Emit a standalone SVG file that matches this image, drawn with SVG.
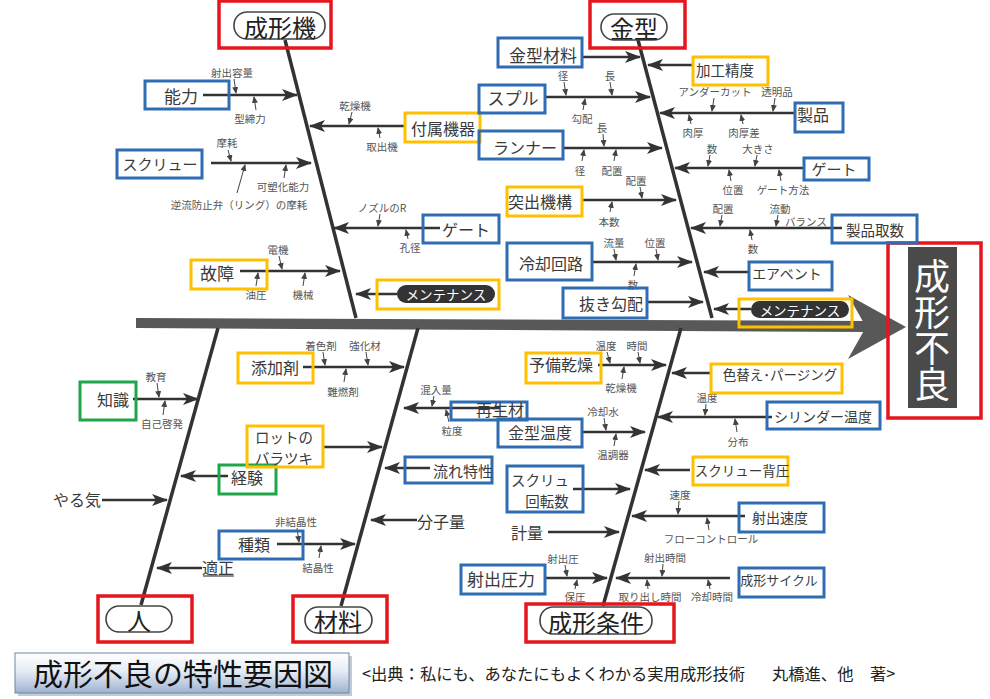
<svg xmlns="http://www.w3.org/2000/svg" width="990" height="699" viewBox="0 0 990 699">
<defs>
<marker id="ah" markerUnits="userSpaceOnUse" markerWidth="16" markerHeight="12" refX="15" refY="6" orient="auto"><path d="M0,0 L16,6 L0,12 L4,6 Z" fill="#333"/></marker>
<marker id="sa" markerUnits="userSpaceOnUse" markerWidth="7" markerHeight="6" refX="6" refY="3" orient="auto"><path d="M0,0 L7,3 L0,6 Z" fill="#444"/></marker>
<linearGradient id="tg" x1="0" y1="0" x2="0" y2="1"><stop offset="0" stop-color="#ffffff"/><stop offset="0.45" stop-color="#e6ecf5"/><stop offset="1" stop-color="#9fb3cf"/></linearGradient>
<style>
.t{font-family:"Noto Sans CJK JP","Noto Sans",sans-serif;fill:#3a3a3a;text-anchor:middle;dominant-baseline:central}
.m{font-size:16px}
.s{font-size:10.5px;fill:#555}
.k{font-size:24px;fill:#222}
.w{fill:#fff;font-size:13.5px}
.bx{fill:none;stroke-width:3}
.bb{stroke:#2E6DB4}
.by{stroke:#FFC000}
.bg{stroke:#1FA64A}
.br{fill:none;stroke:#E5161D;stroke-width:3.5}
.pl{fill:#fff;stroke:#444;stroke-width:1.6}
.dp{fill:#333}
.ln{stroke:#333;stroke-width:2.4;fill:none;marker-end:url(#ah)}
.bn{stroke:#333;stroke-width:3.5}
.sa{stroke:#444;stroke-width:1;marker-end:url(#sa)}
</style>
</defs>
<rect width="990" height="699" fill="#fff"/>

<g id="spine">
<polygon points="136,318 868,321 868,332 136,328" fill="#585858"/>
<path d="M848,295 L906,327 L848,359 L866,327 Z" fill="#585858"/>
</g>

<g id="connectors">
<line class="bn" x1="285" y1="40" x2="356" y2="318"/>
<line class="bn" x1="638" y1="40" x2="712" y2="318"/>
<line class="bn" x1="218" y1="328" x2="141" y2="605"/>
<line class="bn" x1="418" y1="328" x2="341" y2="606"/>
<line class="bn" x1="681" y1="328" x2="603" y2="606"/>

<line class="ln" x1="203" y1="95" x2="297" y2="95"/>
<line class="ln" x1="211" y1="163" x2="311" y2="163"/>
<line class="ln" x1="405" y1="126" x2="310" y2="126"/>
<line class="ln" x1="440" y1="228" x2="334" y2="228"/>
<line class="ln" x1="240" y1="271" x2="340" y2="271"/>
<line class="ln" x1="397" y1="294" x2="356" y2="294"/>

<line class="ln" x1="582" y1="57" x2="640" y2="57"/>
<line class="ln" x1="545" y1="97" x2="650" y2="97"/>
<line class="ln" x1="563" y1="148" x2="662" y2="148"/>
<line class="ln" x1="582" y1="200" x2="676" y2="200"/>
<line class="ln" x1="592" y1="262" x2="692" y2="262"/>
<line class="ln" x1="647" y1="302" x2="703" y2="302"/>

<line class="ln" x1="693" y1="65" x2="648" y2="65"/>
<line class="ln" x1="795" y1="113" x2="660" y2="113"/>
<line class="ln" x1="805" y1="168" x2="675" y2="168"/>
<line class="ln" x1="842" y1="228" x2="691" y2="228"/>
<line class="ln" x1="749" y1="272" x2="704" y2="272"/>
<line class="ln" x1="751" y1="309" x2="714" y2="309"/>

<line class="ln" x1="133" y1="399" x2="198" y2="399"/>
<line class="ln" x1="228" y1="476" x2="181" y2="476"/>
<line class="ln" x1="102" y1="500" x2="167" y2="500"/>
<line class="ln" x1="202" y1="568" x2="157" y2="568"/>
<line x1="203" y1="576" x2="234" y2="576" stroke="#444" stroke-width="1.2"/>

<line class="ln" x1="303" y1="367" x2="404" y2="367"/>
<line class="ln" x1="322" y1="447" x2="382" y2="447"/>
<line class="ln" x1="500" y1="408" x2="404" y2="408"/>
<line class="ln" x1="430" y1="468" x2="385" y2="468"/>
<line class="ln" x1="417" y1="520" x2="371" y2="520"/>
<line class="ln" x1="277" y1="544" x2="355" y2="544"/>

<line class="ln" x1="598" y1="365" x2="666" y2="365"/>
<line class="ln" x1="583" y1="432" x2="645" y2="432"/>
<line class="ln" x1="573" y1="489" x2="630" y2="489"/>
<line class="ln" x1="548" y1="532" x2="619" y2="532"/>
<line class="ln" x1="545" y1="578" x2="607" y2="578"/>

<line class="ln" x1="710" y1="373" x2="672" y2="373"/>
<line class="ln" x1="772" y1="417" x2="658" y2="417"/>
<line class="ln" x1="690" y1="470" x2="645" y2="470"/>
<line class="ln" x1="745" y1="516" x2="632" y2="516"/>
<line class="ln" x1="730" y1="578" x2="616" y2="578"/>

<line class="sa" x1="234" y1="79" x2="236" y2="93"/>
<line class="sa" x1="256" y1="110" x2="254" y2="97"/>
<line class="sa" x1="228" y1="150" x2="231" y2="161"/>
<line class="sa" x1="284" y1="178" x2="286" y2="165"/>
<line class="sa" x1="237" y1="193" x2="245" y2="165"/>
<line class="sa" x1="352" y1="112" x2="349" y2="124"/>
<line class="sa" x1="380" y1="138" x2="378" y2="128"/>
<line class="sa" x1="380" y1="214" x2="378" y2="226"/>
<line class="sa" x1="408" y1="239" x2="406" y2="230"/>
<line class="sa" x1="279" y1="256" x2="282" y2="269"/>
<line class="sa" x1="256" y1="286" x2="258" y2="273"/>
<line class="sa" x1="303" y1="286" x2="305" y2="273"/>

<line class="sa" x1="564" y1="82" x2="566" y2="95"/>
<line class="sa" x1="610" y1="82" x2="612" y2="95"/>
<line class="sa" x1="583" y1="110" x2="585" y2="99"/>
<line class="sa" x1="603" y1="134" x2="604" y2="146"/>
<line class="sa" x1="582" y1="161" x2="584" y2="150"/>
<line class="sa" x1="614" y1="161" x2="616" y2="150"/>
<line class="sa" x1="640" y1="187" x2="642" y2="198"/>
<line class="sa" x1="610" y1="212" x2="612" y2="202"/>
<line class="sa" x1="614" y1="249" x2="616" y2="260"/>
<line class="sa" x1="656" y1="249" x2="658" y2="260"/>
<line class="sa" x1="634" y1="276" x2="636" y2="264"/>

<line class="sa" x1="714" y1="98" x2="712" y2="111"/>
<line class="sa" x1="775" y1="98" x2="773" y2="111"/>
<line class="sa" x1="691" y1="124" x2="689" y2="115"/>
<line class="sa" x1="743" y1="124" x2="741" y2="115"/>
<line class="sa" x1="710" y1="155" x2="708" y2="166"/>
<line class="sa" x1="757" y1="155" x2="755" y2="166"/>
<line class="sa" x1="731" y1="181" x2="729" y2="170"/>
<line class="sa" x1="781" y1="181" x2="779" y2="170"/>
<line class="sa" x1="722" y1="215" x2="720" y2="226"/>
<line class="sa" x1="778" y1="215" x2="776" y2="226"/>
<line class="sa" x1="752" y1="240" x2="750" y2="230"/>

<line class="sa" x1="157" y1="383" x2="159" y2="397"/>
<line class="sa" x1="163" y1="415" x2="165" y2="401"/>
<line class="sa" x1="323" y1="352" x2="325" y2="365"/>
<line class="sa" x1="366" y1="352" x2="368" y2="365"/>
<line class="sa" x1="344" y1="382" x2="346" y2="369"/>
<line class="sa" x1="434" y1="396" x2="432" y2="406"/>
<line class="sa" x1="449" y1="422" x2="446" y2="410"/>
<line class="sa" x1="297" y1="528" x2="299" y2="542"/>
<line class="sa" x1="319" y1="558" x2="321" y2="546"/>

<line class="sa" x1="607" y1="352" x2="610" y2="363"/>
<line class="sa" x1="638" y1="352" x2="640" y2="363"/>
<line class="sa" x1="622" y1="379" x2="624" y2="367"/>
<line class="sa" x1="604" y1="418" x2="606" y2="430"/>
<line class="sa" x1="614" y1="446" x2="616" y2="434"/>
<line class="sa" x1="565" y1="565" x2="567" y2="576"/>
<line class="sa" x1="575" y1="589" x2="577" y2="580"/>

<line class="sa" x1="706" y1="404" x2="705" y2="415"/>
<line class="sa" x1="737" y1="432" x2="735" y2="419"/>
<line class="sa" x1="679" y1="501" x2="678" y2="514"/>
<line class="sa" x1="709" y1="530" x2="707" y2="518"/>
<line class="sa" x1="663" y1="564" x2="662" y2="576"/>
<line class="sa" x1="648" y1="589" x2="647" y2="580"/>
<line class="sa" x1="710" y1="589" x2="708" y2="580"/>
</g>

<g id="sublabels" class="t s">
<text x="232" y="72">射出容量</text>
<text x="250" y="118">型締力</text>
<text x="227" y="142">摩耗</text>
<text x="283" y="186">可塑化能力</text>
<text x="239" y="204">逆流防止弁（リング）の摩耗</text>
<text x="355" y="105">乾燥機</text>
<text x="382" y="146">取出機</text>
<text x="382" y="207">ノズルのR</text>
<text x="410" y="247">孔径</text>
<text x="278" y="249">電機</text>
<text x="256" y="294">油圧</text>
<text x="303" y="294">機械</text>
<text x="563" y="75">径</text>
<text x="610" y="75">長</text>
<text x="582" y="118">勾配</text>
<text x="602" y="127">長</text>
<text x="580" y="170">径</text>
<text x="612" y="170">配置</text>
<text x="636" y="180">配置</text>
<text x="609" y="221">本数</text>
<text x="614" y="242">流量</text>
<text x="655" y="242">位置</text>
<text x="633" y="284">数</text>
<text x="715" y="91">アンダーカット</text>
<text x="777" y="91">透明品</text>
<text x="693" y="132">肉厚</text>
<text x="744" y="132">肉厚差</text>
<text x="712" y="148">数</text>
<text x="758" y="148">大きさ</text>
<text x="733" y="189">位置</text>
<text x="783" y="189">ゲート方法</text>
<text x="723" y="208">配置</text>
<text x="780" y="208">流動</text>
<text x="806" y="221">バランス</text>
<text x="753" y="248">数</text>
<text x="156" y="376">教育</text>
<text x="162" y="423">自己啓発</text>
<text x="321" y="345">着色剤</text>
<text x="365" y="345">強化材</text>
<text x="343" y="391">難燃剤</text>
<text x="436" y="389">混入量</text>
<text x="452" y="430">粒度</text>
<text x="296" y="521">非結晶性</text>
<text x="318" y="567">結晶性</text>
<text x="606" y="345">温度</text>
<text x="637" y="345">時間</text>
<text x="621" y="387">乾燥機</text>
<text x="603" y="411">冷却水</text>
<text x="613" y="454">温調器</text>
<text x="563" y="558">射出圧</text>
<text x="575" y="596">保圧</text>
<text x="707" y="397">温度</text>
<text x="738" y="441">分布</text>
<text x="680" y="494">速度</text>
<text x="711" y="538">フローコントロール</text>
<text x="665" y="557">射出時間</text>
<text x="650" y="596">取り出し時間</text>
<text x="712" y="596">冷却時間</text>
</g>

<g id="bone-seikeiki"><rect class="br" x="219" y="1" width="112" height="47"/><rect class="pl" x="234" y="12" width="91" height="27" rx="13"/><text class="t k" x="280" y="26">成形機</text></g>
<g id="bone-kanagata"><rect class="br" x="590" y="1" width="95" height="47"/><rect class="pl" x="601" y="14" width="66" height="26" rx="13"/><text class="t k" x="634" y="27">金型</text></g>
<g id="bone-hito"><rect class="br" x="98" y="596" width="94" height="46"/><rect class="pl" x="106" y="606" width="66" height="26" rx="13"/><text class="t k" x="139" y="619">人</text></g>
<g id="bone-zairyo"><rect class="br" x="293" y="596" width="94" height="46"/><rect class="pl" x="305" y="607" width="67" height="26" rx="13"/><text class="t k" x="338" y="620">材料</text></g>
<g id="bone-jouken"><rect class="br" x="526" y="604" width="148" height="38"/><rect class="pl" x="540" y="607" width="112" height="27" rx="13"/><text class="t k" x="596" y="621">成形条件</text></g>

<g id="result"><rect class="br" x="888" y="243" width="93" height="175"/><rect x="908" y="247" width="49" height="161" fill="#4a4a4a"/>
<text class="t" style="font-size:36px;fill:#fff;writing-mode:vertical-rl" x="932" y="330">成形不良</text></g>

<g id="n-noryoku"><rect class="bx bb" x="145" y="81" width="84" height="28"/><text class="t" style="font-size:17px" x="181" y="95">能力</text></g>
<g id="n-screw"><rect class="bx bb" x="117" y="150" width="85" height="28"/><text class="t" style="font-size:15px" x="160" y="163">スクリュー</text></g>
<g id="n-fuzoku"><rect class="bx by" x="405" y="113" width="75" height="29"/><text class="t m" x="443" y="128">付属機器</text></g>
<g id="n-gate1"><rect class="bx bb" x="423" y="215" width="76" height="28"/><text class="t m" x="466" y="229">ゲート</text></g>
<g id="n-kosho"><rect class="bx by" x="191" y="260" width="76" height="29"/><text class="t" style="font-size:17px" x="217" y="272">故障</text></g>
<g id="n-maint1"><rect class="bx by" x="377" y="280" width="122" height="29"/><rect class="dp" x="397" y="285" width="98" height="18" rx="9"/><text class="t w" x="446" y="294">メンテナンス</text></g>

<g id="n-kanazai"><rect class="bx bb" x="498" y="38" width="84" height="29"/><text class="t" style="font-size:17px" x="543" y="54">金型材料</text></g>
<g id="n-spru"><rect class="bx bb" x="479" y="85" width="66" height="28"/><text class="t" style="font-size:17px" x="513" y="97">スプル</text></g>
<g id="n-runner"><rect class="bx bb" x="479" y="131" width="84" height="28"/><text class="t m" x="525" y="147">ランナー</text></g>
<g id="n-tsukidashi"><rect class="bx by" x="507" y="187" width="75" height="29"/><text class="t m" x="540" y="201">突出機構</text></g>
<g id="n-reikyaku"><rect class="bx bb" x="507" y="243" width="85" height="37"/><text class="t m" x="551" y="263">冷却回路</text></g>
<g id="n-nuki"><rect class="bx bb" x="563" y="288" width="84" height="30"/><text class="t m" x="611" y="303">抜き勾配</text></g>

<g id="n-kako"><rect class="bx by" x="693" y="57" width="75" height="28"/><text class="t" style="font-size:14.5px" x="725" y="69">加工精度</text></g>
<g id="n-seihin"><rect class="bx bb" x="795" y="103" width="48" height="29"/><text class="t m" x="813" y="114">製品</text></g>
<g id="n-gate2"><rect class="bx bb" x="804" y="158" width="65" height="22"/><text class="t" style="font-size:15px" x="834" y="168">ゲート</text></g>
<g id="n-torisu"><rect class="bx bb" x="832" y="215" width="85" height="28"/><text class="t" style="font-size:14.5px" x="875" y="229">製品取数</text></g>
<g id="n-airvent"><rect class="bx bb" x="749" y="262" width="83" height="28"/><text class="t" style="font-size:14px" x="787" y="273">エアベント</text></g>
<g id="n-maint2"><rect class="bx by" x="739" y="299" width="113" height="28"/><rect class="dp" x="751" y="301" width="98" height="17" rx="8.5"/><text class="t w" x="800" y="309.5">メンテナンス</text></g>

<g id="n-chishiki"><rect class="bx bg" x="80" y="382" width="56" height="38"/><text class="t m" x="113" y="399">知識</text></g>
<g id="n-keiken"><rect class="bx bg" x="219" y="465" width="57" height="29"/><text class="t m" x="247" y="477">経験</text></g>
<g id="n-yaruki"><text class="t m" x="77" y="499">やる気</text></g>
<g id="n-tekisei"><text class="t m" x="218" y="567">適正</text></g>

<g id="n-tenka"><rect class="bx by" x="238" y="353" width="75" height="30"/><text class="t m" x="275" y="367">添加剤</text></g>
<g id="n-lot"><rect class="bx by" x="247" y="426" width="76" height="41"/><text class="t" style="font-size:14.5px" x="284" y="436">ロットの<tspan x="284" dy="21">バラツキ</tspan></text></g>
<g id="n-saisei"><rect class="bx bb" x="451" y="402" width="76" height="18"/><text class="t m" x="500" y="409">再生材</text></g>
<g id="n-nagare"><rect class="bx bb" x="405" y="457" width="87" height="26"/><text class="t" style="font-size:15px" x="463" y="470">流れ特性</text></g>
<g id="n-bunshi"><text class="t m" x="441" y="521">分子量</text></g>
<g id="n-shurui"><rect class="bx bb" x="219" y="531" width="84" height="28"/><text class="t m" x="254" y="544">種類</text></g>

<g id="n-yobi"><rect class="bx by" x="526" y="353" width="75" height="30"/><text class="t m" x="561" y="364">予備乾燥</text></g>
<g id="n-kanaon"><rect class="bx bb" x="498" y="419" width="84" height="28"/><text class="t m" x="540" y="432">金型温度</text></g>
<g id="n-kaiten"><rect class="bx bb" x="507" y="466" width="76" height="46"/><text class="t" style="font-size:14.5px" x="540" y="479">スクリュ<tspan x="547" dy="21">回転数</tspan></text></g>
<g id="n-keiryo"><text class="t m" x="527" y="532">計量</text></g>
<g id="n-shatsu"><rect class="bx bb" x="461" y="565" width="84" height="29"/><text class="t" style="font-size:17px" x="501" y="578">射出圧力</text></g>

<g id="n-irokae"><rect class="bx by" x="711" y="364" width="131" height="29"/><text class="t" style="font-size:13.5px" x="780" y="374">色替え･パージング</text></g>
<g id="n-cylinder"><rect class="bx bb" x="767" y="402" width="113" height="27"/><text class="t" style="font-size:14px" x="823" y="416">シリンダー温度</text></g>
<g id="n-haiatsu"><rect class="bx by" x="693" y="457" width="95" height="28"/><text class="t" style="font-size:13.5px" x="742" y="470">スクリュー背圧</text></g>
<g id="n-sokudo"><rect class="bx bb" x="739" y="503" width="85" height="29"/><text class="t" style="font-size:14px" x="780" y="517">射出速度</text></g>
<g id="n-cycle"><rect class="bx bb" x="739" y="568" width="85" height="29"/><text class="t" style="font-size:13px" x="779" y="579">成形サイクル</text></g>

<g id="title">
<rect x="18" y="656" width="334" height="40" fill="#9aa6b8" opacity="0.6"/>
<rect x="15" y="653" width="334" height="40" fill="url(#tg)" stroke="#6f85a5" stroke-width="1"/>
<text class="t" style="font-size:30px;fill:#111" x="183" y="672">成形不良の特性要因図</text>
</g>
<g id="caption">
<text class="t" style="font-size:16.3px;fill:#222;text-anchor:start" y="673"><tspan x="362">&lt;出典：私にも、あなたにもよくわかる実用成形技術</tspan><tspan x="772">丸橋進、他</tspan><tspan x="870">著&gt;</tspan></text>
</g>
</svg>
